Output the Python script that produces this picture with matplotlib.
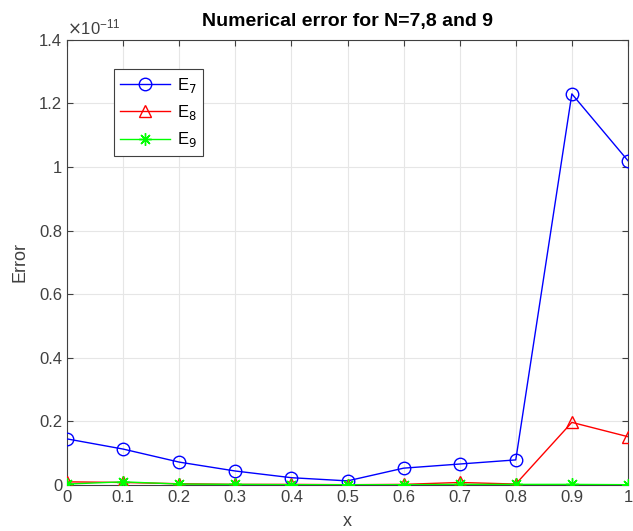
import matplotlib
matplotlib.use("Agg")
import matplotlib.pyplot as plt
import numpy as np

plt.rcParams['font.family'] = ['Liberation Sans', 'DejaVu Sans']

x = [0, 0.1, 0.2, 0.3, 0.4, 0.5, 0.6, 0.7, 0.8, 0.9, 1.0]
E7 = [0.145, 0.113, 0.072, 0.044, 0.023, 0.013, 0.053, 0.066, 0.079, 1.23, 1.02]
E8 = [0.010, 0.008, 0.004, 0.002, 0.002, 0.001, 0.002, 0.008, 0.003, 0.197, 0.152]
E9 = [0.003, 0.010, 0.003, 0.002, 0.001, 0.001, 0.001, 0.002, 0.002, 0.002, 0.001]
scale = 1e-11
xticks = [0, 0.1, 0.2, 0.3, 0.4, 0.5, 0.6, 0.7, 0.8, 0.9, 1]
xticklabels = ['0', '0.1', '0.2', '0.3', '0.4', '0.5', '0.6', '0.7', '0.8', '0.9', '1']
yticks = [0, 0.2, 0.4, 0.6, 0.8, 1.0, 1.2, 1.4]
yticklabels = ['0', '0.2', '0.4', '0.6', '0.8', '1', '1.2', '1.4']

fig = plt.figure(figsize=(6.33, 5.31), dpi=100)
ax = fig.add_axes([0.106, 0.0866, 0.886, 0.8384])

ax.plot(x, np.array(E7) * scale, color='#0000ff', marker='o', markersize=9,
        markerfacecolor='none', linewidth=1.0, label='E$_7$', zorder=3)
ax.plot(x, np.array(E8) * scale, color='#ff0000', marker='^', markersize=9,
        markerfacecolor='none', linewidth=1.0, label='E$_8$', zorder=3)
ax.plot(x, np.array(E9) * scale, color='#00ff00', marker=(8, 2, 0), markersize=9,
        markeredgewidth=1.0, linewidth=1.0, label='E$_9$', zorder=3)

ax.set_xlim(0, 1)
ax.set_ylim(0, 1.4 * scale)
ax.set_xticks(xticks)
ax.set_xticklabels(xticklabels)
ax.set_yticks(np.array(yticks) * scale)
ax.set_yticklabels(yticklabels)

ax.grid(True, color='#e6e6e6', linewidth=0.8, zorder=0)
ax.set_axisbelow(True)
for s in ax.spines.values():
    s.set_color('#404040')
    s.set_linewidth(0.8)
ax.tick_params(direction='in', top=True, right=True, colors='#404040',
               labelsize=12, length=4, labelcolor='#404040')

ax.text(0.0, 1.005, r'$\times\mathregular{10^{-11}}$', transform=ax.transAxes,
        fontsize=12, color='#404040', ha='left', va='bottom')

ax.set_xlabel('x', fontsize=13, color='#404040', labelpad=6)
ax.set_ylabel('Error', fontsize=13, color='#404040', labelpad=8)
ax.set_title('Numerical error for N=7,8 and 9', fontsize=14, fontweight='bold',
             color='black', pad=10)

leg = ax.legend(loc='upper left', bbox_to_anchor=(0.068, 0.953), fontsize=12,
                fancybox=False, edgecolor='#404040', framealpha=1,
                handlelength=3, borderpad=0.4, labelspacing=0.5,
                handletextpad=0.4)
leg.get_frame().set_linewidth(0.8)

fig.savefig('out.png', dpi=100)
